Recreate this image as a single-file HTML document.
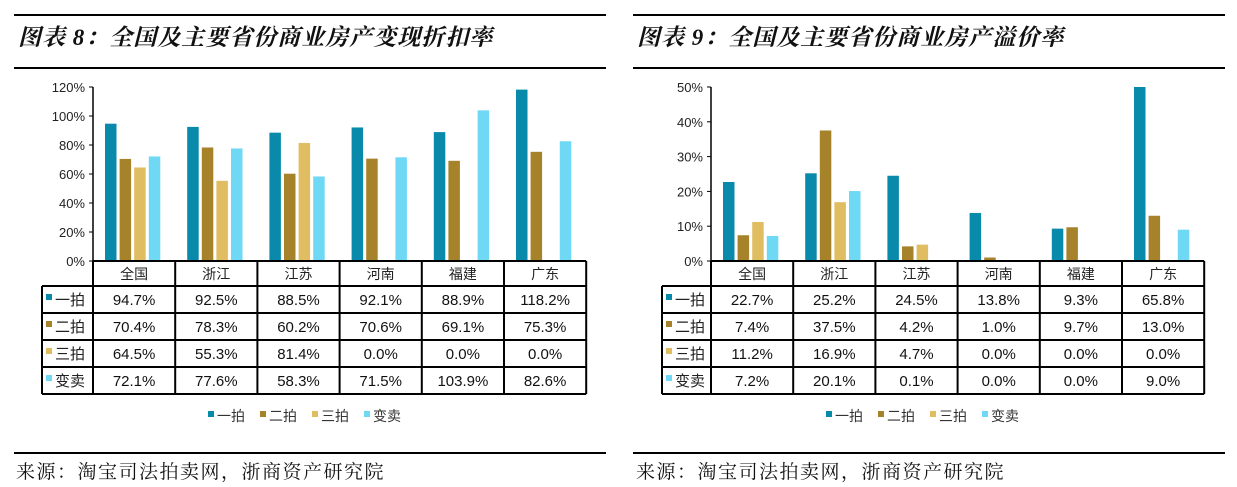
<!DOCTYPE html>
<html><head><meta charset="utf-8">
<style>
body{margin:0;width:1237px;height:487px;background:#fff;overflow:hidden;position:relative;font-family:"Liberation Sans","Noto Sans CJK SC",sans-serif;}
.hline{position:absolute;height:1.5px;background:#000;}
.title{position:absolute;font-family:"Liberation Serif","Noto Serif CJK SC",serif;font-style:italic;font-weight:bold;font-size:23px;letter-spacing:1px;color:#111;}
.src{position:absolute;font-family:"Liberation Serif","Noto Serif CJK SC",serif;font-size:19px;letter-spacing:1.5px;color:#111;}
</style></head><body>
<div class="hline" style="left:14px;top:14px;width:592px"></div>
<div class="title" style="left:18px;top:19px">图表 8：全国及主要省份商业房产变现折扣率</div>
<div class="hline" style="left:14px;top:67px;width:592px"></div>
<div class="hline" style="left:633px;top:14px;width:592px"></div>
<div class="title" style="left:637px;top:19px">图表 9：全国及主要省份商业房产溢价率</div>
<div class="hline" style="left:633px;top:67px;width:592px"></div>
<div class="hline" style="left:14px;top:452px;width:592px"></div>
<div class="src" style="left:16px;top:457px">来源：淘宝司法拍卖网，浙商资产研究院</div>
<div class="hline" style="left:633px;top:452px;width:592px"></div>
<div class="src" style="left:636px;top:457px">来源：淘宝司法拍卖网，浙商资产研究院</div>
<svg id="svg" width="1237" height="487" style="position:absolute;left:0;top:0"></svg>
<script>
const categories=["全国","浙江","江苏","河南","福建","广东"];
const seriesNames=["一拍","二拍","三拍","变卖"];
const colors=["#0a8aab","#a6822a","#e1bd62","#6fd8f5"];
const leftS1=[94.7,92.5,88.5,92.1,88.9,118.2];
const leftS2=[70.4,78.3,60.2,70.6,69.1,75.3];
const leftS3=[64.5,55.3,81.4,0,0,0];
const leftS4=[72.1,77.6,58.3,71.5,103.9,82.6];
const leftTicks=[0,20,40,60,80,100,120];
const rightS1=[22.7,25.2,24.5,13.8,9.3,65.8];
const rightS2=[7.4,37.5,4.2,1.0,9.7,13.0];
const rightS3=[11.2,16.9,4.7,0,0,0];
const rightS4=[7.2,20.1,0.1,0,0,9.0];
const rightTicks=[0,10,20,30,40,50];
const NS="http://www.w3.org/2000/svg";
const svg=document.getElementById('svg');
function mk(tag,attrs,txt){const e=document.createElementNS(NS,tag);for(const k in attrs)e.setAttribute(k,attrs[k]);if(txt!==undefined)e.textContent=txt;svg.appendChild(e);return e;}
function draw(prefix,ax,tblL,series,ticks,maxV){
  const y0=261,yTop=87,colW=82.2;
  const y=v=>y0-(Math.min(v,maxV)/maxV)*(y0-yTop);
  let e=mk('line',{x1:ax,y1:yTop,x2:ax,y2:y0,stroke:'#000','stroke-width':1.5});
  
  
  ticks.forEach(t=>{
    let tk=mk('line',{x1:ax-4,y1:y(t),x2:ax,y2:y(t),stroke:'#000','stroke-width':1});
    
    
    let l=mk('text',{x:ax-8,y:y(t)+5,'text-anchor':'end','font-size':13,fill:'#222'},t+'%');
    
    
  });
  categories.forEach((c,i)=>{
    series.forEach((s,j)=>{
      if(s[i]<=0.05)return;
      const bx=ax+i*colW+12+j*14.6;
      let r=mk('rect',{x:bx,y:y(s[i]),width:11.5,height:y0-y(s[i]),fill:colors[j]});
      
      
    });
  });
  const rows=[261,286,313,340,367,394];
  const right=ax+6*colW;
  const g={stroke:'#000','stroke-width':2};
  mk('line',Object.assign({x1:ax,y1:261,x2:right,y2:261},g));
  for(let r=1;r<rows.length;r++){mk('line',Object.assign({x1:tblL,y1:rows[r],x2:right,y2:rows[r]},g));}
  mk('line',Object.assign({x1:tblL,y1:286,x2:tblL,y2:394},g));
  for(let c=0;c<=6;c++){mk('line',Object.assign({x1:ax+c*colW,y1:261,x2:ax+c*colW,y2:394},g));}
  categories.forEach((c,i)=>{
    let t=mk('text',{x:ax+i*colW+colW/2,y:279,'text-anchor':'middle','font-size':14,fill:'#222'},c);
    
    
  });
  series.forEach((s,j)=>{
    const ry=rows[j+1];
    let sq=mk('rect',{x:tblL+4,y:ry+8,width:6,height:6,fill:colors[j]});
    
    
    let lt=mk('text',{x:tblL+13,y:ry+19,'font-size':15,fill:'#222'},seriesNames[j]);
    
    
    s.forEach((v,i)=>{
      let vt=mk('text',{x:ax+i*colW+colW/2,y:ry+19,'text-anchor':'middle','font-size':15,fill:'#111'},v.toFixed(1)+'%');
      
      
    });
  });
  let lx=ax+115;
  seriesNames.forEach((n,j)=>{
    let sq=mk('rect',{x:lx,y:411,width:6,height:6,fill:colors[j]});
    
    
    let t=mk('text',{x:lx+9,y:421,'font-size':14,fill:'#333'},n);
    
    
    lx+=52;
  });
}
draw('left',93,42,[leftS1,leftS2,leftS3,leftS4],leftTicks,120);
draw('right',711,662,[rightS1,rightS2,rightS3,rightS4],rightTicks,50);
</script>
</body></html>
